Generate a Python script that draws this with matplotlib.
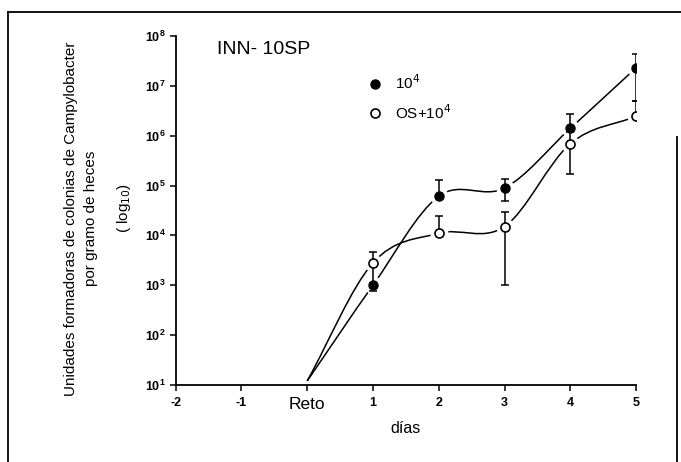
import numpy as np
import matplotlib
matplotlib.use("Agg")
import matplotlib.pyplot as plt
from matplotlib.path import Path
from matplotlib.patches import PathPatch
from matplotlib.lines import Line2D

# days after challenge ("Reto" = day 0)
dias = [0, 1, 2, 3, 4, 5]
x_ticks = [-2, -1, 0, 1, 2, 3, 4, 5]
x_labels = ["-2", "-1", "Reto", "1", "2", "3", "4", "5"]

# UFC per gram of faeces (curve starts at Reto ~ 10^1)
ufc_10_4 = [12, 1000, 6.1e4, 8.9e4, 1.4e6, 2.3e7]
ufc_os = [12, 2.8e3, 1.1e4, 1.5e4, 6.9e5, 2.45e6]

# error bar ends (low, high), only the days with markers
ufc_10_4_low = [760, 6.1e4, 4.8e4, 1.4e6, 4.9e6]
ufc_10_4_high = [1000, 1.3e5, 1.35e5, 2.7e6, 4.4e7]
ufc_os_low = [1.1e3, 1.1e4, 1.0e3, 1.7e5, 2.45e6]
ufc_os_high = [4.7e3, 2.5e4, 2.9e4, 1.2e6, 4.9e6]

plt.rcParams['font.family'] = ['Liberation Sans', 'DejaVu Sans']

fig = plt.figure(figsize=(6.81, 4.62), dpi=100)
ax = fig.add_axes([0.258, 0.167, 0.676, 0.755])


def smooth_curve(xs, ys):
    # cubic bezier pieces through the points, tangents taken in log space
    lx = np.array(xs, dtype=float)
    ly = np.log10(np.array(ys, dtype=float))
    n = len(lx)
    m = np.zeros(n)
    for i in range(n):
        if i == 0:
            m[i] = (ly[1] - ly[0]) / (lx[1] - lx[0])
        elif i == n - 1:
            m[i] = (ly[-1] - ly[-2]) / (lx[-1] - lx[-2])
        else:
            m[i] = (ly[i + 1] - ly[i - 1]) / (lx[i + 1] - lx[i - 1])
    verts = [(lx[0], 10 ** ly[0])]
    codes = [Path.MOVETO]
    for i in range(n - 1):
        d = (lx[i + 1] - lx[i]) / 3.0
        verts.append((lx[i] + d, 10 ** (ly[i] + m[i] * d)))
        verts.append((lx[i + 1] - d, 10 ** (ly[i + 1] - m[i + 1] * d)))
        verts.append((lx[i + 1], 10 ** ly[i + 1]))
        codes += [Path.CURVE4] * 3
    return Path(verts, codes)


for serie in [ufc_10_4, ufc_os]:
    ax.add_patch(PathPatch(smooth_curve(dias, serie), fill=False,
                           ec='black', lw=1.1, zorder=1))

# white halo around markers (gaps in the lines)
ax.plot(dias[1:], ufc_10_4[1:], 'o', ms=12, color='white', zorder=2)
ax.plot(dias[1:], ufc_os[1:], 'o', ms=12, color='white', zorder=2)

# error bars
for vals, lo, hi in [(ufc_10_4, ufc_10_4_low, ufc_10_4_high),
                     (ufc_os, ufc_os_low, ufc_os_high)]:
    v = np.array(vals[1:])
    yerr = [v - np.array(lo), np.array(hi) - v]
    ax.errorbar(dias[1:], v, yerr=yerr, fmt='none', ecolor='black',
                elinewidth=1.1, capsize=3, capthick=1.1, zorder=3)

ax.plot(dias[1:], ufc_10_4[1:], 'o', ms=6.5, mfc='black', mec='black',
        zorder=4, label='10$^4$')
ax.plot(dias[1:], ufc_os[1:], 'o', ms=6.5, mfc='white', mec='black',
        mew=1.2, zorder=4, label='OS+10$^4$')

ax.set_yscale('log')
ax.set_ylim(10, 1e8)
ax.set_xlim(-2, 5)
ax.set_xticks(x_ticks)
ax.set_xticklabels(x_labels)
for lab in ax.get_xticklabels():
    if lab.get_text() == "Reto":
        lab.set_fontsize(12.5)
    else:
        lab.set_fontsize(9)
        lab.set_fontweight('bold')
ax.yaxis.set_major_locator(matplotlib.ticker.LogLocator(base=10, numticks=10))
ax.yaxis.set_minor_locator(matplotlib.ticker.NullLocator())
ax.tick_params(axis='y', labelsize=9, length=4, width=1.1, pad=3)
for lab in ax.get_yticklabels():
    lab.set_fontweight('bold')
ax.tick_params(axis='x', length=4, width=1.1, pad=5)
ax.spines['top'].set_visible(False)
ax.spines['right'].set_visible(False)
ax.spines['left'].set_linewidth(1.3)
ax.spines['bottom'].set_linewidth(1.3)

ax.set_xlabel('días', fontsize=11.5, labelpad=6)
ax.text(0.09, 0.962, 'INN- 10SP', transform=ax.transAxes, fontsize=14,
        va='center', ha='left')

ax.legend(loc='upper left', bbox_to_anchor=(0.41, 0.91), frameon=False,
          fontsize=11, handlelength=0.6, handletextpad=1.0,
          labelspacing=0.7, borderaxespad=0)

fig.text(0.104, 0.526, 'Unidades formadoras de colonias de Campylobacter',
         rotation=90, ha='center', va='center', fontsize=11)
fig.text(0.134, 0.528, 'por gramo de heces', rotation=90, ha='center',
         va='center', fontsize=11)
fig.text(0.182, 0.55, '( log$_{10}$)', rotation=90, ha='center',
         va='center', fontsize=11)

# scanned page frame
fig.add_artist(Line2D([8 / 681, 1.0], [1 - 12 / 462] * 2, color='black',
                      lw=1.3, transform=fig.transFigure))
fig.add_artist(Line2D([8 / 681] * 2, [0, 1 - 12 / 462], color='black',
                      lw=1.3, transform=fig.transFigure))
fig.add_artist(Line2D([677 / 681] * 2, [0, 1 - 137 / 462], color='black',
                      lw=1.3, transform=fig.transFigure))

fig.savefig('out.png', dpi=100)
